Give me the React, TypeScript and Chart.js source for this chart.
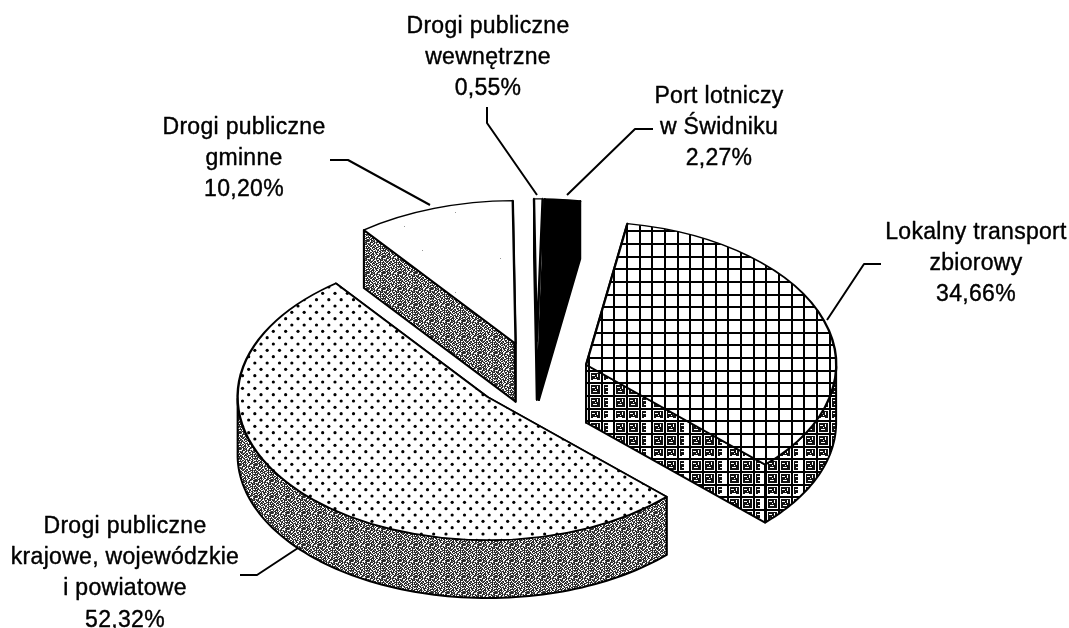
import React, { useEffect, useRef } from "react";
import { Chart, registerables } from "chart.js";

Chart.register(...registerables);

const categories = ["Lokalny transport zbiorowy", "Drogi publiczne krajowe, wojewódzkie i powiatowe", "Drogi publiczne gminne", "Drogi publiczne wewnętrzne", "Port lotniczy w Świdniku"];
const shares = [34.66, 52.32, 10.2, 0.55, 2.27];
const labelLines = [
  ["Lokalny transport", "zbiorowy"],
  ["Drogi publiczne", "krajowe, wojewódzkie", "i powiatowe"],
  ["Drogi publiczne", "gminne"],
  ["Drogi publiczne", "wewnętrzne"],
  ["Port lotniczy", "w Świdniku"],
];

// Annotation layout (text anchors and leader lines), not marks
const labelCentres = [976, 125, 244, 488, 719];
const labelFirstBaselines = [239, 533, 134, 33, 103];
const labelLineSteps = [31, 31.2, 31, 31, 31];
const leaders = [
  [[881, 264], [864, 264], [827, 320]],
  [[240, 575], [257, 575], [298, 548]],
  [[330, 160], [348, 160], [430, 205]],
  [[487, 107], [487, 123], [537, 195]],
  [[653, 129], [635, 129], [567, 195]],
];

const ROTATION = 9.5;
const RADIUS = 250;
const TILT = 0.572;
const DEPTH = 58;
const EXPLODE = 58;
const SLICE_NUDGE_X = [0, 0, 3.5, 5.5, 2.5];
const DRAW_ORDER = [4, 3, 2, 0, 1];

function tile(w: number, h: number, paint: (c: CanvasRenderingContext2D) => void) {
  const cv = document.createElement("canvas");
  cv.width = w;
  cv.height = h;
  const c = cv.getContext("2d")!;
  c.fillStyle = "#fff";
  c.fillRect(0, 0, w, h);
  paint(c);
  return c.createPattern(cv, "repeat")!;
}

const GRID_X = [6, 19, 32];
const GRID_Y = [3, 16, 29];

function gridLines(c: CanvasRenderingContext2D) {
  c.fillStyle = "#000";
  GRID_X.forEach((x) => c.fillRect(x - 1, 0, 2, 38));
  GRID_Y.forEach((y) => c.fillRect(0, y - 1, 38, 2));
}

const noiseRows = [
  "##.##+#..##+.###",
  "#+.#+##.+#...+##",
  "..###.#+##+#.##.",
  "#+#..##.#..##+#+",
  "###.+#..+##.###.",
  ".#+##.##.#+.#..#",
  "+.##.#+#..###+##",
  "##..###.##+.#.#.",
  "#+#.#.+##..##+##",
  ".##+.##.#+#.#..#",
  "##.##..+.##.+###",
  "+#..#+##.#.##.#+",
  "#.##.#.###+.#+..",
  "##+.##.+#..##.##",
  ".#.###+.##.#+##.",
  "#+##.#.#..###.+#",
];

function makeFills() {
  const dots = tile(37, 38, (c) => {
    c.fillStyle = "#000";
    for (let r = 0; r < 6; r++) {
      for (let k = 0; k < 3; k++) {
        c.beginPath();
        c.arc(2 + k * 12.33 + (r % 2) * 6.17, 2 + r * 6.33, 1.6, 0, Math.PI * 2);
        c.fill();
      }
    }
  });
  const grid = tile(38, 38, gridLines);
  const specks = tile(120, 80, (c) => {
    c.fillStyle = "#999";
    c.fillRect(20, 18, 1, 1);
    c.fillRect(62, 10, 1, 1);
    c.fillRect(95, 52, 1, 1);
    c.fillRect(44, 66, 1, 1);
  });
  const plain = tile(4, 4, () => {});
  const solid = tile(4, 4, (c) => {
    c.fillStyle = "#000";
    c.fillRect(0, 0, 4, 4);
  });
  const gridSide = tile(38, 38, (c) => {
    gridLines(c);
    GRID_X.forEach((x) =>
      GRID_Y.forEach((y) => {
        c.fillStyle = "#111";
        c.fillRect(x + 2, y + 2, 9, 9);
        c.fillStyle = "#fff";
        c.fillRect(x + 3, y + 4, 3, 1);
        c.fillRect(x + 8, y + 3, 1, 3);
        c.fillRect(x + 4, y + 8, 4, 1);
        c.fillRect(x + 6, y + 6, 1, 1);
      })
    );
  });
  const noise = tile(16, 16, (c) => {
    noiseRows.forEach((row, y) =>
      row.split("").forEach((ch, x) => {
        if (ch === ".") return;
        c.fillStyle = ch === "#" ? "#2a2a2a" : "#808080";
        c.fillRect(x, y, 1, 1);
      })
    );
  });
  return {
    tops: [grid, dots, specks, plain, solid],
    sides: [gridSide, noise, noise, plain, solid],
  };
}

function sidePlugin(fills: ReturnType<typeof makeFills>) {
  return {
    id: "tiltedPie",
    beforeDatasetsDraw(chart: any) {
      const ctx: CanvasRenderingContext2D = chart.ctx;
      const arcs = chart.getDatasetMeta(0).data;
      const syncPattern = (p: CanvasPattern) => p.setTransform(ctx.getTransform().inverse());
      DRAW_ORDER.forEach((i) => {
        const el = arcs[i];
        const { x, y, startAngle: s, endAngle: e, outerRadius: R } = el;
        const mid = (s + e) / 2;
        const ex = Math.cos(mid) * EXPLODE + SLICE_NUDGE_X[i];
        const ey = Math.sin(mid) * EXPLODE;
        const at = (a: number, r: number, drop: number): [number, number] => [
          x + ex + Math.cos(a) * r,
          y + (ey + Math.sin(a) * r) * TILT + drop,
        ];
        const face = (pts: [number, number][]) => {
          ctx.beginPath();
          pts.forEach((p, k) => (k ? ctx.lineTo(p[0], p[1]) : ctx.moveTo(p[0], p[1])));
          ctx.closePath();
          ctx.fill();
          ctx.stroke();
        };
        ctx.save();
        ctx.setTransform(1, 0, 0, 1, 0, 0);
        const side = fills.sides[i];
        side.setTransform(new DOMMatrix());
        ctx.fillStyle = side;
        ctx.strokeStyle = "#000";
        ctx.lineWidth = 2;
        ctx.lineJoin = "round";
        [s, e].forEach((a) =>
          face([at(0, 0, 0), at(a, R, 0), at(a, R, DEPTH), at(0, 0, DEPTH)])
        );
        const upper: [number, number][] = [];
        const lower: [number, number][] = [];
        const steps = 120;
        for (let k = 0; k <= steps; k++) {
          const a = s + ((e - s) * k) / steps;
          if (Math.sin(a) >= 0) {
            upper.push(at(a, R, 0));
            lower.unshift(at(a, R, DEPTH));
          }
        }
        if (upper.length > 1) face([...upper, ...lower]);
        ctx.restore();

        ctx.save();
        ctx.translate(x, y);
        ctx.scale(1, TILT);
        ctx.translate(-x, -y);
        ctx.translate(ex, ey);
        syncPattern(fills.tops[i]);
        el.draw(ctx);
        ctx.restore();
      });
      return false;
    },
    afterDraw(chart: any) {
      const ctx: CanvasRenderingContext2D = chart.ctx;
      ctx.save();
      ctx.strokeStyle = "#000";
      ctx.lineWidth = 2;
      ctx.lineJoin = "round";
      leaders.forEach((pts) => {
        ctx.beginPath();
        pts.forEach((p, k) => (k ? ctx.lineTo(p[0], p[1]) : ctx.moveTo(p[0], p[1])));
        ctx.stroke();
      });
      ctx.fillStyle = "#000";
      ctx.strokeStyle = "#000";
      ctx.lineWidth = 0.4;
      ctx.font = '23px "Liberation Sans"';
      (ctx as any).letterSpacing = "0.3px";
      ctx.textAlign = "center";
      ctx.textBaseline = "alphabetic";
      labelLines.forEach((lines, i) => {
        const all = [...lines, shares[i].toFixed(2).replace(".", ",") + "%"];
        all.forEach((t, k) => {
          const ty = labelFirstBaselines[i] + k * labelLineSteps[i];
          ctx.fillText(t, labelCentres[i], ty);
          ctx.strokeText(t, labelCentres[i], ty);
        });
      });
      ctx.restore();
    },
  };
}

export default function App() {
  const ref = useRef<HTMLCanvasElement>(null);
  useEffect(() => {
    const fills = makeFills();
    const chart = new Chart(ref.current!, {
      type: "pie",
      data: {
        labels: categories,
        datasets: [
          {
            data: shares,
            backgroundColor: fills.tops,
            borderColor: "#000",
            borderWidth: 2.4,
            borderAlign: "center",
          } as any,
        ],
      },
      options: {
        animation: false,
        responsive: false,
        events: [],
        rotation: ROTATION,
        radius: RADIUS,
        layout: { padding: { top: 122, left: 0, right: 7, bottom: 0 } },
        plugins: { legend: { display: false }, tooltip: { enabled: false } },
      } as any,
      plugins: [sidePlugin(fills) as any],
    });
    return () => chart.destroy();
  }, []);
  return (
    <div style={{ position: "absolute", left: 0, top: 0, width: 1069, height: 628, background: "#fff" }}>
      <canvas ref={ref} width={1069} height={628} style={{ display: "block" }} />
    </div>
  );
}
